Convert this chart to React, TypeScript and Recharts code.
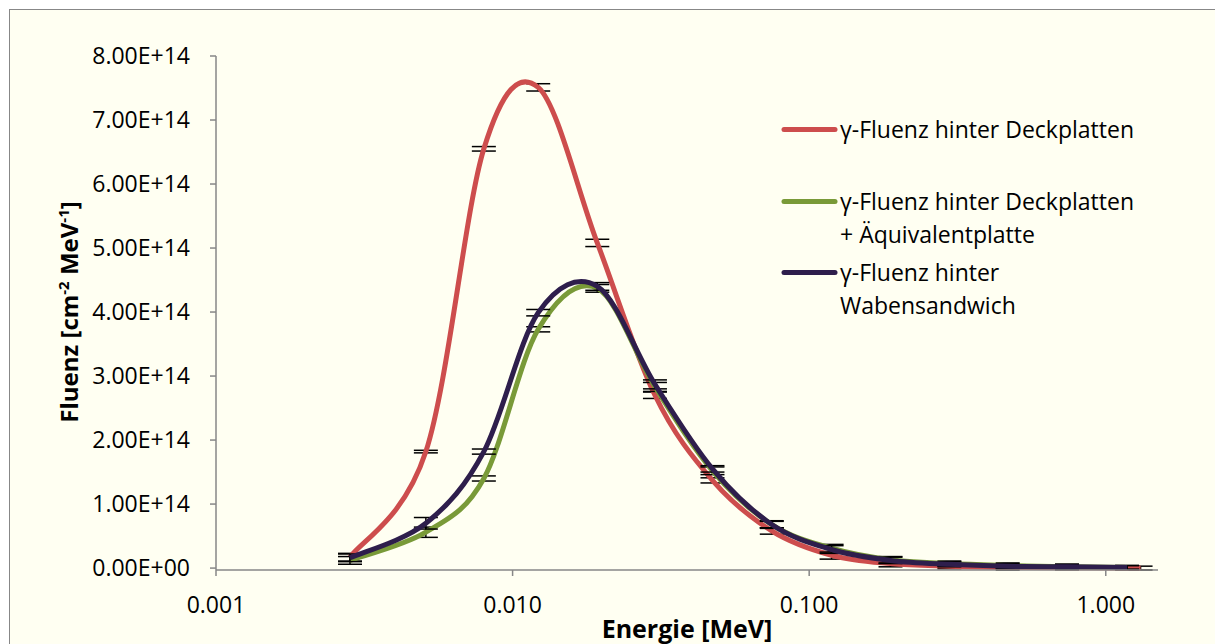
import React from 'react';
import { LineChart, Line, XAxis, YAxis, ErrorBar } from 'recharts';

// Energie-Stützstellen [MeV]
const energies = [0.00283, 0.0051, 0.008, 0.0122, 0.0193, 0.0302, 0.0472, 0.0748, 0.119, 0.188, 0.297, 0.467, 0.74, 1.18];
const redEnergies = [...energies, 1.31];

// Fluenz [cm^-2 MeV^-1]
const deckplatten = [0.17e14, 1.82e14, 6.55e14, 7.51e14, 5.08e14, 2.7e14, 1.37e14, 0.58e14, 0.2e14, 0.07e14, 0.03e14, 0.01e14, 0.005e14, 0.002e14, 0];
const aequivalent = [0.12e14, 0.56e14, 1.4e14, 3.73e14, 4.37e14, 2.83e14, 1.52e14, 0.68e14, 0.31e14, 0.13e14, 0.07e14, 0.04e14, 0.02e14, 0.01e14];
const waben = [0.16e14, 0.7e14, 1.82e14, 3.99e14, 4.4e14, 2.87e14, 1.55e14, 0.68e14, 0.29e14, 0.12e14, 0.06e14, 0.03e14, 0.02e14, 0.01e14];

// Fehlerbalken (±)
const deckplattenErr = [0.06e14, 0.02e14, 0.035e14, 0.057e14, 0.057e14, 0.05e14, 0.04e14, 0.05e14, 0.06e14, 0.05e14, 0.04e14, 0.04e14, 0.03e14, 0.03e14, 0.03e14];
const aequivalentErr = [0.06e14, 0.08e14, 0.04e14, 0.04e14, 0.06e14, 0.07e14, 0.06e14, 0.06e14, 0.06e14, 0.05e14, 0.04e14, 0.04e14, 0.04e14, 0.03e14];
const wabenErr = [0.06e14, 0.09e14, 0.04e14, 0.05e14, 0.06e14, 0.07e14, 0.05e14, 0.05e14, 0.06e14, 0.05e14, 0.04e14, 0.04e14, 0.04e14, 0.03e14];

const xTicks = [0.001, 0.01, 0.1, 1];
const yTicks = [0, 1e14, 2e14, 3e14, 4e14, 5e14, 6e14, 7e14, 8e14];

const seriesNames = [
  'γ-Fluenz hinter Deckplatten',
  'γ-Fluenz hinter Deckplatten\n+ Äquivalentplatte',
  'γ-Fluenz hinter\nWabensandwich',
];
const seriesColors = ['#CD4D4D', '#799A38', '#2E1E4C'];

const FONT = '"Open Sans", sans-serif';

const toRows = (xs: number[], ys: number[], errs: number[]) =>
  xs.map((e, i) => ({ e, v: ys[i], err: errs[i] }));

const seriesData = [
  toRows(redEnergies, deckplatten, deckplattenErr),
  toRows(energies, aequivalent, aequivalentErr),
  toRows(energies, waben, wabenErr),
];

// geglättete Linie wie in Excel (Catmull-Rom als Bezier)
const smoothCurve = (context: any) => {
  let pts: [number, number][] = [];
  return {
    areaStart() {},
    areaEnd() {},
    lineStart() {
      pts = [];
    },
    point(x: number, y: number) {
      pts.push([+x, +y]);
    },
    lineEnd() {
      if (!pts.length) return;
      context.moveTo(pts[0][0], pts[0][1]);
      for (let i = 0; i < pts.length - 1; i++) {
        const p0 = pts[i - 1] || pts[i];
        const p1 = pts[i];
        const p2 = pts[i + 1];
        const p3 = pts[i + 2] || p2;
        context.bezierCurveTo(
          p1[0] + (p2[0] - p0[0]) / 6,
          p1[1] + (p2[1] - p0[1]) / 6,
          p2[0] - (p3[0] - p1[0]) / 6,
          p2[1] - (p3[1] - p1[1]) / 6,
          p2[0],
          p2[1],
        );
      }
    },
  };
};

const fmtY = (v: number) => {
  const [m, e] = v.toExponential(2).split('e');
  const n = parseInt(e, 10);
  return `${m}E${n < 0 ? '-' : '+'}${String(Math.abs(n)).padStart(2, '0')}`;
};

const fmtX = (v: number) => v.toFixed(3);

const renderYTitle = () => (
  <text
    transform="translate(68,302) rotate(-90)"
    textAnchor="middle"
    fontFamily={FONT}
    fontWeight="bold"
    fontSize={24}
    fill="#000"
  >
    Fluenz [cm
    <tspan dy={-9} fontSize={15}>-2</tspan>
    <tspan dy={9}> MeV</tspan>
    <tspan dy={-9} fontSize={15}>-1</tspan>
    <tspan dy={9}>]</tspan>
  </text>
);

const renderXTitle = () => (
  <text x={677} y={628} textAnchor="middle" fontFamily={FONT} fontWeight="bold" fontSize={25} fill="#000">
    Energie [MeV]
  </text>
);

const App: React.FC = () => {
  return (
    <div
      style={{
        position: 'fixed',
        left: 9,
        top: 9,
        width: 1230,
        height: 660,
        border: '1px solid #878787',
        background: '#FFFFF2',
        overflow: 'hidden',
      }}
    >
      <LineChart width={1205} height={634} margin={{ top: 46, right: 57, left: 0, bottom: 14 }}>
        <XAxis
          dataKey="e"
          type="number"
          scale="log"
          domain={[0.001, 1.5]}
          allowDataOverflow
          ticks={xTicks}
          tickFormatter={fmtX}
          tickSize={6}
          tickMargin={21}
          height={60}
          stroke="#878787"
          strokeWidth={1.5}
          tick={{ fontSize: 23, fontFamily: FONT, fill: '#000' }}
          label={{ content: renderXTitle }}
        />
        <YAxis
          type="number"
          domain={[0, 8e14]}
          ticks={yTicks}
          tickFormatter={fmtY}
          tickSize={6}
          tickMargin={20}
          width={206}
          stroke="#878787"
          strokeWidth={1.5}
          tick={{ fontSize: 23, fontFamily: FONT, fill: '#000' }}
          label={{ content: renderYTitle }}
        />
        {seriesData.map((rows, i) => (
          <Line
            key={i}
            data={rows}
            dataKey="v"
            type={smoothCurve as any}
            stroke={seriesColors[i]}
            strokeWidth={5}
            dot={false}
            isAnimationActive={false}
          >
            <ErrorBar dataKey="err" direction="y" width={12} stroke="#000" strokeWidth={1.5} />
          </Line>
        ))}
      </LineChart>
      <div style={{ position: 'absolute', left: 770, top: 103, fontFamily: FONT, fontSize: 23, color: '#000' }}>
        {seriesNames.map((name, i) => (
          <div key={i} style={{ position: 'absolute', top: i * 71.5, left: 0, display: 'flex', whiteSpace: 'nowrap' }}>
            <svg width={60} height={33} style={{ flex: 'none' }}>
              <line x1={4} y1={16.5} x2={55} y2={16.5} stroke={seriesColors[i]} strokeWidth={5} strokeLinecap="round" />
            </svg>
            <div style={{ lineHeight: '33px' }}>
              {name.split('\n').map((line, j) => (
                <div key={j}>{line}</div>
              ))}
            </div>
          </div>
        ))}
      </div>
    </div>
  );
};

export default App;
